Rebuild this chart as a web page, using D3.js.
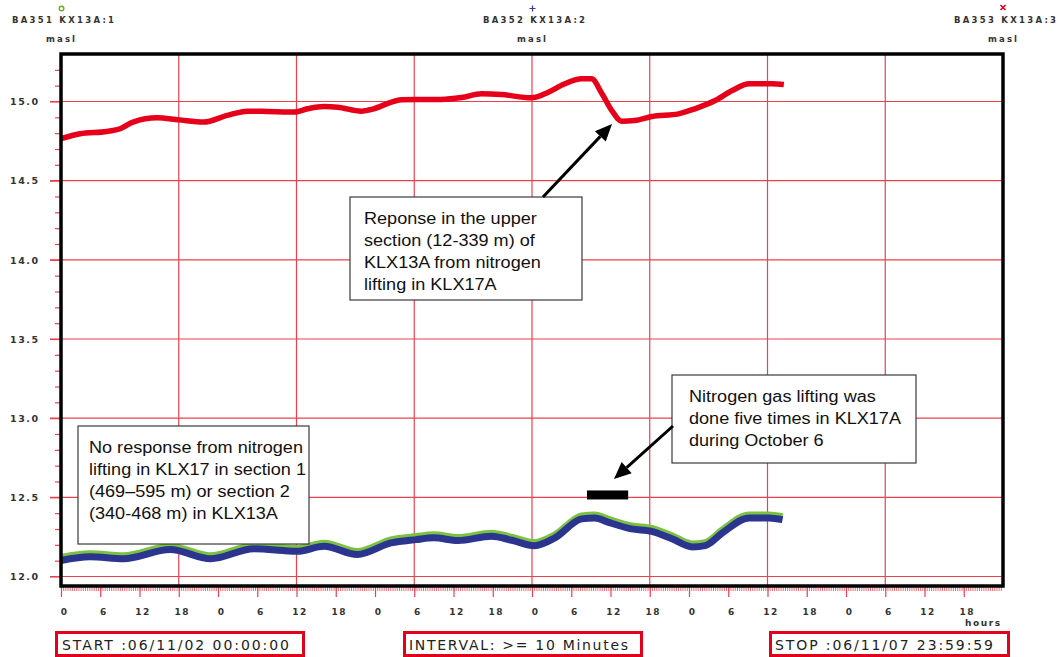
<!DOCTYPE html>
<html>
<head>
<meta charset="utf-8">
<script src="https://cdn.jsdelivr.net/npm/d3@7"></script>
<style>
  html, body { margin: 0; padding: 0; background: #fff; }
  svg { display: block; }
</style>
</head>
<body>
<svg id="chart" width="1061" height="657"></svg>
<script>
// ---- Data: hours since START (06/11/02 00:00) and water level (masl) ----
const hoursUpper = [0, 2.9, 7.0, 9.05, 11.0, 14.7, 17.9, 21.8, 25.4, 28.5, 31.5, 35.6, 37.7, 40.2, 42.3, 45.9, 47.8, 50.5, 52.0, 58.1, 61.2, 64.3, 67.3, 71.9, 74.5, 77.0, 79.6, 81.1, 82.7, 84.2, 85.7, 87.7, 90.3, 94.4, 96.9, 100.0, 102.6, 105.2, 108.7, 110.5];
const levelSection3 = [14.765, 14.796, 14.811, 14.828, 14.870, 14.897, 14.885, 14.870, 14.912, 14.939, 14.937, 14.933, 14.954, 14.968, 14.964, 14.939, 14.954, 14.996, 15.011, 15.013, 15.025, 15.049, 15.044, 15.023, 15.059, 15.112, 15.143, 15.143, 15.049, 14.943, 14.876, 14.880, 14.905, 14.922, 14.954, 15.006, 15.069, 15.112, 15.112, 15.107];

const hoursLower = [0, 4.45, 9.55, 16.7, 22.85, 29.5, 36.1, 40.2, 45.3, 50.45, 54.3, 57.0, 60.7, 65.8, 68.9, 72.4, 75.5, 79.6, 81.6, 83.7, 87.2, 90.3, 93.4, 96.5, 98.5, 101.1, 105.2, 108.2, 110.3];
const levelSection1 = [12.120, 12.143, 12.131, 12.189, 12.131, 12.194, 12.178, 12.210, 12.158, 12.231, 12.252, 12.263, 12.246, 12.273, 12.248, 12.214, 12.263, 12.383, 12.389, 12.361, 12.320, 12.304, 12.257, 12.206, 12.214, 12.294, 12.389, 12.389, 12.378];
const levelSection2 = [12.101, 12.124, 12.112, 12.170, 12.112, 12.175, 12.159, 12.191, 12.139, 12.212, 12.233, 12.244, 12.227, 12.254, 12.229, 12.195, 12.244, 12.364, 12.370, 12.342, 12.301, 12.285, 12.238, 12.187, 12.195, 12.275, 12.370, 12.370, 12.359];

// Nitrogen lifting period on October 6 (hours) and the level where it is marked
const liftingPeriod = [80.4, 86.7];
const liftingLevel = 12.515;

// Axis ticks
const levelTicks = [12.0, 12.5, 13.0, 13.5, 14.0, 14.5, 15.0];
const hourTicks = d3.range(0, 144, 6);
const hourGrid = d3.range(18, 144, 18);

// Header / footer texts
const seriesNames = ["BA351 KX13A:1", "BA352 KX13A:2", "BA353 KX13A:3"];
const unitLabel = "masl";
const footerTexts = ["START :06/11/02 00:00:00", "INTERVAL: >= 10 Minutes", "STOP :06/11/07 23:59:59"];

// ---- Layout ----
const svg = d3.select("#chart");
const W = 1061, H = 657;
const plot = { left: 61, right: 1003, top: 54, bottom: 586 };

const x = d3.scaleLinear().domain([0, 144]).range([plot.left, plot.right]);
const y = d3.scaleLinear().domain([11.94, 15.3]).range([plot.bottom, plot.top]);

const gridRed = "#e8424f";
const pixelFont = "'DejaVu Sans', Verdana, sans-serif";
const textFont = "'Liberation Sans', Arial, sans-serif";

svg.append("rect").attr("width", W).attr("height", H).attr("fill", "#fff");

// ---- Grid ----
const grid = svg.append("g");
grid.selectAll("line.h").data(levelTicks).join("line")
  .attr("x1", plot.left - 11).attr("x2", plot.right)
  .attr("y1", d => y(d)).attr("y2", d => y(d))
  .attr("stroke", gridRed).attr("stroke-width", 1.2);
grid.selectAll("line.v").data(hourGrid).join("line")
  .attr("x1", d => x(d)).attr("x2", d => x(d))
  .attr("y1", plot.top).attr("y2", plot.bottom)
  .attr("stroke", gridRed).attr("stroke-width", 1.2);

// ---- Series ----
const line = d3.line().x(d => x(d[0])).y(d => y(d[1])).curve(d3.curveMonotoneX);
const s1 = hoursLower.map((h, i) => [h, levelSection1[i]]);
const s2 = hoursLower.map((h, i) => [h, levelSection2[i]]);
const s3 = hoursUpper.map((h, i) => [h, levelSection3[i]]);

svg.append("path").datum(s1).attr("d", line)
  .attr("fill", "none").attr("stroke", "#7cc242").attr("stroke-width", 7).attr("stroke-linejoin", "round");
svg.append("path").datum(s2).attr("d", line)
  .attr("fill", "none").attr("stroke", "#2b3590").attr("stroke-width", 7).attr("stroke-linejoin", "round");
svg.append("path").datum(s3).attr("d", line)
  .attr("fill", "none").attr("stroke", "#e6001a").attr("stroke-width", 5.5).attr("stroke-linejoin", "round");

// Lifting period bar
svg.append("rect")
  .attr("x", x(liftingPeriod[0])).attr("width", x(liftingPeriod[1]) - x(liftingPeriod[0]))
  .attr("y", y(liftingLevel) - 4.5).attr("height", 9)
  .attr("fill", "#000");

// ---- Annotation boxes ----
function noteBox(bx, by, bw, bh, lines, tx, firstBase) {
  const g = svg.append("g");
  g.append("rect").attr("x", bx).attr("y", by).attr("width", bw).attr("height", bh)
    .attr("fill", "#fff").attr("stroke", "#3a3a3a").attr("stroke-width", 1.2);
  lines.forEach((t, i) => {
    g.append("text")
      .attr("transform", `translate(${tx},${firstBase + i * 22}) scale(1.13,1)`)
      .attr("font-family", textFont).attr("font-size", 16).attr("fill", "#111")
      .text(t);
  });
}
noteBox(350, 197, 232, 103,
  ["Reponse in the upper", "section (12-339 m) of", "KLX13A from nitrogen", "lifting in KLX17A"], 364, 224);
noteBox(672, 375, 244, 88,
  ["Nitrogen gas lifting was", "done five times in KLX17A", "during October 6"], 689, 402);
noteBox(78, 426, 231, 118,
  ["No response from nitrogen", "lifting in KLX17 in section 1", "(469–595 m) or section 2", "(340-468 m) in KLX13A"], 89, 453);

// ---- Arrows ----
function arrow(x0, y0, x1, y1) {
  const a = Math.atan2(y1 - y0, x1 - x0);
  const len = 17, hw = 7.5;
  const bx = x1 - len * Math.cos(a), by = y1 - len * Math.sin(a);
  svg.append("line").attr("x1", x0).attr("y1", y0).attr("x2", bx).attr("y2", by)
    .attr("stroke", "#000").attr("stroke-width", 3);
  const pts = [
    [x1, y1],
    [bx + hw * Math.sin(a), by - hw * Math.cos(a)],
    [bx - hw * Math.sin(a), by + hw * Math.cos(a)]
  ];
  svg.append("polygon").attr("points", pts.map(p => p.join(",")).join(" ")).attr("fill", "#000");
}
arrow(543, 197, 612, 124);
arrow(673, 426, 614, 479);

// ---- Axes ----
const yAxis = svg.append("g").attr("transform", `translate(${plot.left},0)`)
  .call(d3.axisLeft(y).tickValues(levelTicks).tickFormat(d3.format(".1f")).tickSize(11));
yAxis.select(".domain").remove();
yAxis.selectAll(".tick line").attr("stroke", gridRed).attr("stroke-width", 1.2);
yAxis.selectAll(".tick text")
  .attr("x", -51).attr("dy", "0.35em").attr("text-anchor", "start")
  .attr("font-family", pixelFont).attr("font-size", 9.5).attr("font-weight", "bold")
  .attr("fill", "#333").attr("textLength", 28).attr("lengthAdjust", "spacing");

const yMinor = svg.append("g").attr("transform", `translate(${plot.left},0)`)
  .call(d3.axisLeft(y).tickValues(d3.range(121, 153).map(v => v / 10).filter(v => Math.round(v * 10) % 5 !== 0))
    .tickFormat("").tickSize(6));
yMinor.select(".domain").remove();
yMinor.selectAll(".tick line").attr("stroke", gridRed).attr("stroke-width", 1.2);

const xMinor = svg.append("g").attr("transform", `translate(0,${plot.bottom})`)
  .call(d3.axisBottom(x).tickValues(d3.range(0, 432).map(i => i / 3)).tickFormat("").tickSize(5));
xMinor.select(".domain").remove();
xMinor.selectAll(".tick line").attr("stroke", gridRed).attr("stroke-width", 0.8);

const xAxis = svg.append("g").attr("transform", `translate(0,${plot.bottom})`)
  .call(d3.axisBottom(x).tickValues(hourTicks).tickFormat(d => d % 24).tickSize(11));
xAxis.select(".domain").remove();
xAxis.selectAll(".tick line").attr("stroke", gridRed).attr("stroke-width", 1.2);
xAxis.selectAll(".tick text")
  .attr("y", 29).attr("dy", 0).attr("x", 3)
  .attr("font-family", pixelFont).attr("font-size", 9).attr("font-weight", "bold")
  .attr("fill", "#333").attr("letter-spacing", "1.5px");

svg.append("text").attr("x", 965).attr("y", 626)
  .attr("font-family", pixelFont).attr("font-size", 9).attr("font-weight", "bold")
  .attr("fill", "#333").attr("textLength", 35).text("hours");

// Frame
svg.append("rect")
  .attr("x", plot.left).attr("y", plot.top)
  .attr("width", plot.right - plot.left).attr("height", plot.bottom - plot.top)
  .attr("fill", "none").attr("stroke", "#000").attr("stroke-width", 3.5);

// ---- Header: series names, symbols and units ----
const headerX = [12, 483, 954];
const unitX = [46, 517, 988];
seriesNames.forEach((name, i) => {
  svg.append("text").attr("x", headerX[i]).attr("y", 22.5)
    .attr("font-family", pixelFont).attr("font-size", 8.5).attr("font-weight", "bold")
    .attr("fill", "#333").attr("textLength", 102).attr("lengthAdjust", "spacing").text(name);
  svg.append("text").attr("x", unitX[i]).attr("y", 41.5)
    .attr("font-family", pixelFont).attr("font-size", 8.5).attr("font-weight", "bold")
    .attr("fill", "#333").attr("textLength", 29).attr("lengthAdjust", "spacing").text(unitLabel);
});
// symbols
svg.append("circle").attr("cx", 61.5).attr("cy", 8.5).attr("r", 2.3)
  .attr("fill", "none").attr("stroke", "#6ab023").attr("stroke-width", 1.4);
svg.append("path").attr("d", "M529.5,8.5h6M532.5,5.5v6").attr("stroke", "#3a3a9a").attr("stroke-width", 1.2);
svg.append("path").attr("d", "M1000.5,5l5,5M1005.5,5l-5,5").attr("stroke", "#e6001a").attr("stroke-width", 1.6);

// ---- Footer boxes ----
const footerBoxes = [[55, 305], [403, 643], [769, 1010]];
const footerTextX = [[62, 227], [409, 219], [775, 218]];
footerBoxes.forEach((b, i) => {
  svg.append("rect").attr("x", b[0] + 1.5).attr("y", 632.5)
    .attr("width", b[1] - b[0] - 3).attr("height", 23)
    .attr("fill", "#fff").attr("stroke", "#e3001b").attr("stroke-width", 3);
  svg.append("text").attr("x", footerTextX[i][0]).attr("y", 650)
    .attr("font-family", pixelFont).attr("font-size", 14)
    .attr("fill", "#222").attr("textLength", footerTextX[i][1]).attr("lengthAdjust", "spacing")
    .text(footerTexts[i]);
});
</script>
</body>
</html>
